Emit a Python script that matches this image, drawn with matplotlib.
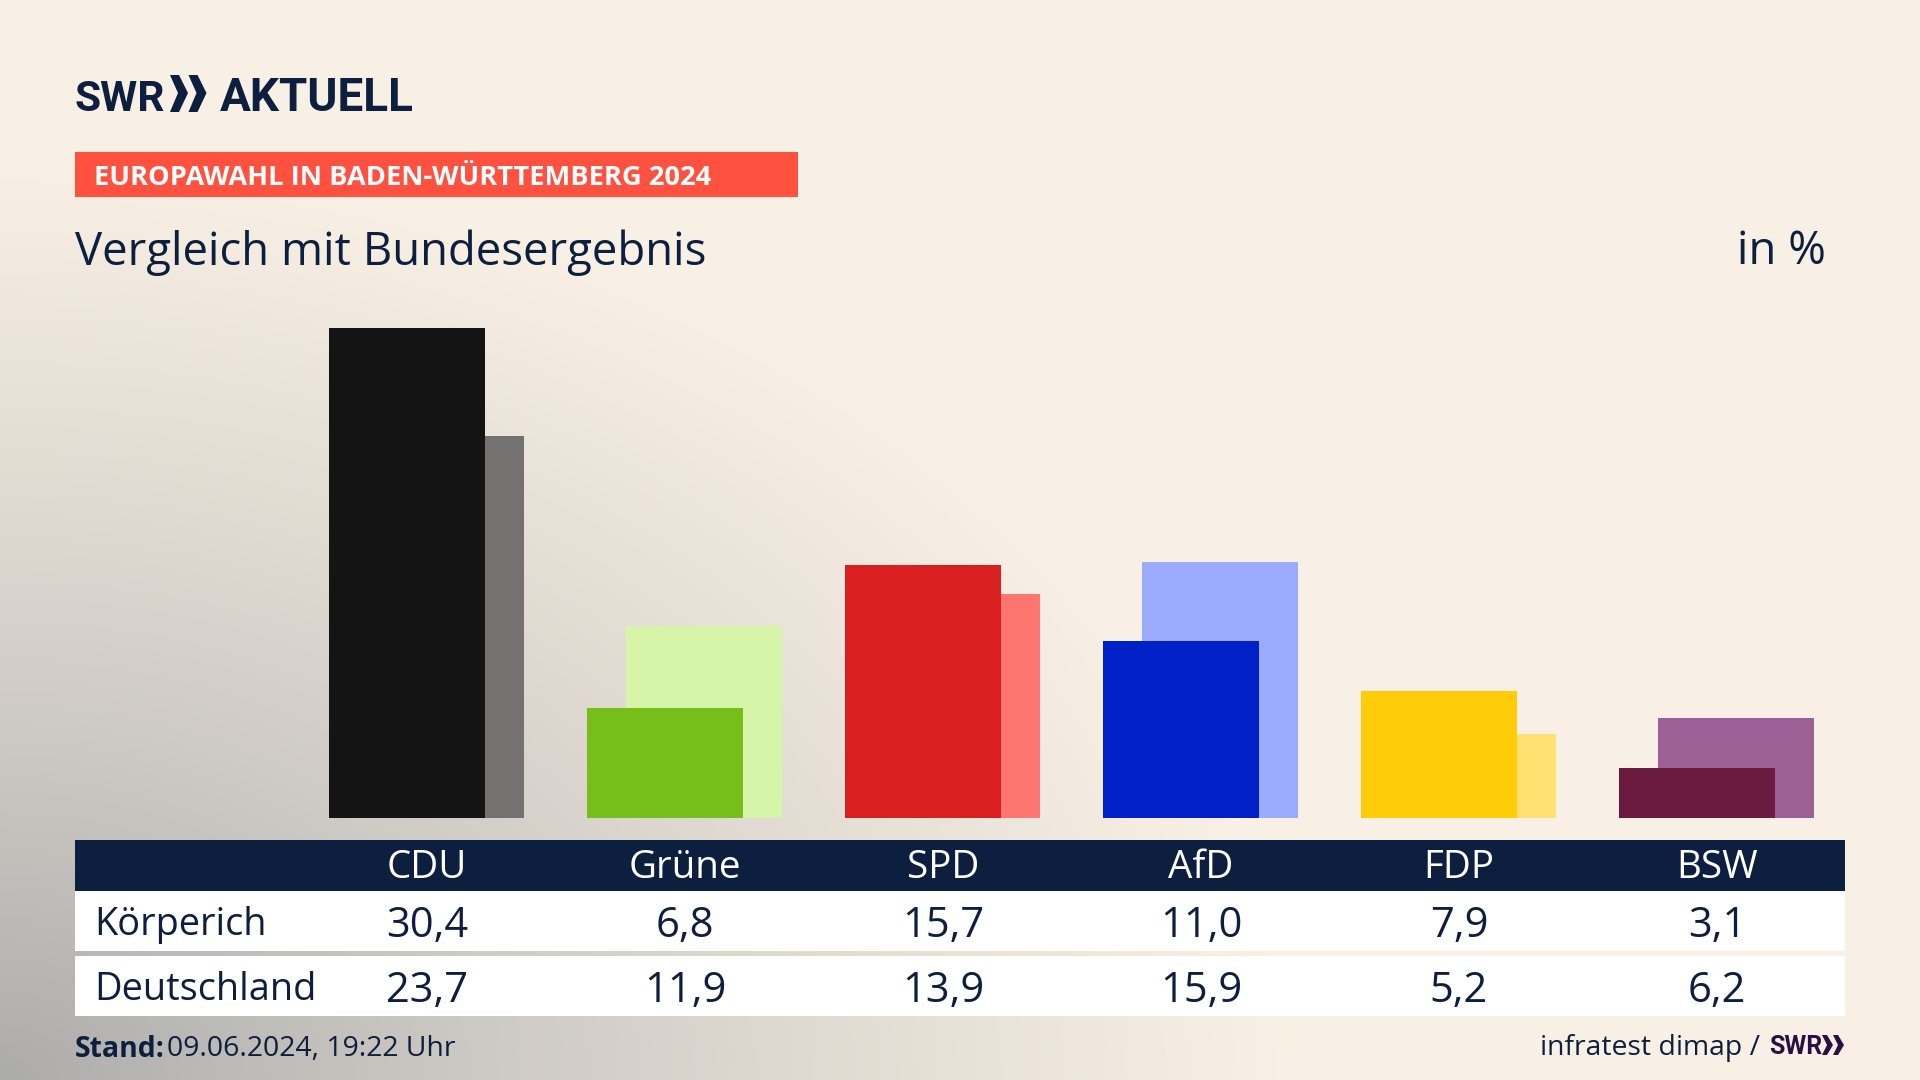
import numpy as np
import matplotlib
matplotlib.use("Agg")
import matplotlib.pyplot as plt
from matplotlib.patches import Rectangle, Polygon

# Data
parties = ["CDU", "Grüne", "SPD", "AfD", "FDP", "BSW"]
koerperich = [30.4, 6.8, 15.7, 11.0, 7.9, 3.1]
deutschland = [23.7, 11.9, 13.9, 15.9, 5.2, 6.2]
row_names = ["Körperich", "Deutschland"]
main_colors = ["#141414", "#78BE1A", "#D91F1F", "#0020C8", "#FFCC0A", "#6B1A40"]
light_colors = ["#737270", "#D7F5A8", "#FF7570", "#9DABFF", "#FFE070", "#9C5F96"]

navy = "#0C1F3F"
plt.rcParams["font.family"] = ["Open Sans", "Noto Sans", "DejaVu Sans"]
logo_font = ["Roboto", "Open Sans"]

W, H = 1920, 1080
fig = plt.figure(figsize=(19.2, 10.8), dpi=100)

# Background gradient, grey in the lower left corner
bg = fig.add_axes([0, 0, 1, 1])
yy, xx = np.mgrid[0:H:270j, 0:W:480j]
dist = np.sqrt((xx / 1300) ** 2 + ((H - yy) / 930) ** 2)
t = np.clip(dist, 0, 1) ** 0.85
c0 = np.array([0.67, 0.67, 0.665])
c1 = np.array([0.98, 0.945, 0.90])
grad = c0 + (c1 - c0) * t[..., None]
bg.imshow(grad, extent=[0, W, H, 0], aspect="auto", interpolation="bilinear")
bg.set_xlim(0, W)
bg.set_ylim(H, 0)
bg.axis("off")

# Bars: one category step is 258 px, one percent is 16.12 px
step = 258
x0 = 427
base_y = 818
ax = fig.add_axes([0, (H - base_y) / H, 1, 516 / H])
ax.patch.set_alpha(0)
ax.set_xlim(-x0 / step, (W - x0) / step)
ax.set_ylim(0, 516 / 16.12)
ax.axis("off")
pos = np.arange(len(parties))
off = 19.7 / step
width = 156 / step
ax.bar(pos - 0.4 / step + off, deutschland, width=width, color=light_colors)
ax.bar(pos - 0.4 / step - off, koerperich, width=width, color=main_colors)

# Header
bg.text(75, 111, "SWR", fontsize=30.5, fontweight="bold", family=logo_font, color=navy, va="baseline")
for dx in (0, 18.5):
    bg.add_patch(Polygon([[170 + dx, 75], [179 + dx, 75], [188 + dx, 93], [179 + dx, 112], [170 + dx, 112], [178 + dx, 93]],
                         closed=True, color=navy, lw=0))
bg.text(220, 111, "AKTUELL", fontsize=33, fontweight="bold", family=logo_font, color=navy, va="baseline")

bg.add_patch(Rectangle((75, 152), 723, 45, color="#FF5140", lw=0))
bg.text(94, 175, "EUROPAWAHL IN BADEN-WÜRTTEMBERG 2024", fontsize=19.6, fontweight="bold",
        color="white", va="center_baseline")
bg.text(75, 247, "Vergleich mit Bundesergebnis", fontsize=32.8, color=navy, va="center_baseline")
bg.text(1826, 247, "in %", fontsize=32.8, color=navy, ha="right", va="center_baseline")

# Table
bg.add_patch(Rectangle((75, 840), 1770, 51, color=navy, lw=0))
bg.add_patch(Rectangle((75, 891), 1770, 60, color="white", lw=0))
bg.add_patch(Rectangle((75, 956), 1770, 60, color="white", lw=0))
for i, name in enumerate(parties):
    bg.text(x0 + step * i, 864, name, fontsize=27.7, color="white", ha="center", va="center_baseline")
for row_y, name, values in [(921, row_names[0], koerperich), (986, row_names[1], deutschland)]:
    bg.text(94, row_y, name, fontsize=27.3, color=navy, va="center_baseline")
    for i, v in enumerate(values):
        label = f"{v:.1f}".replace(".", ",")
        bg.text(x0 + step * i, row_y, label, fontsize=30, color=navy, ha="center", va="center_baseline")

# Footer
bg.text(75, 1046, "Stand:", fontsize=20.4, fontweight="bold", color=navy, va="center_baseline")
bg.text(167, 1046, "09.06.2024, 19:22 Uhr", fontsize=20.4, color=navy, va="center_baseline")
bg.text(1760, 1045, "infratest dimap /", fontsize=20.4, color=navy, ha="right", va="center_baseline")
bg.text(1769, 1045, "SWR", fontsize=18, fontweight="bold", family=logo_font, color="#2A0F45", va="center_baseline")
for dx in (0, 11):
    bg.add_patch(Polygon([[1822 + dx, 1035], [1827 + dx, 1035], [1833 + dx, 1045], [1827 + dx, 1055], [1822 + dx, 1055], [1827 + dx, 1045]],
                         closed=True, color="#2A0F45", lw=0))

fig.savefig("out.png", dpi=100)
